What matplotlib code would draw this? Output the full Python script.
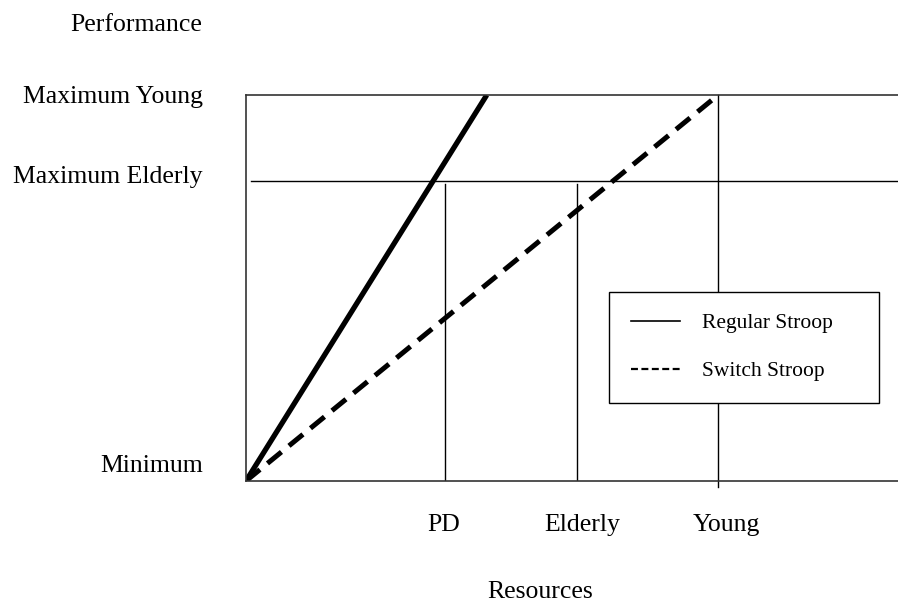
import matplotlib
matplotlib.use("Agg")
import matplotlib.pyplot as plt
import matplotlib.transforms as mtransforms
from matplotlib.lines import Line2D

plt.rcParams['font.family'] = ['Liberation Serif', 'DejaVu Serif']
plt.rcParams['lines.scale_dashes'] = False

# resource levels (x) and performance levels (y)
group_names = ["PD", "Elderly", "Young"]
group_resources = [42.2, 70.1, 100.0]
perf_names = ["Minimum", "Maximum Elderly", "Maximum Young"]
perf_levels = [0.0, 77.7, 100.0]

# the two task curves: start and end points
regular_x = [0.0, 51.0]
regular_y = [0.0, 100.0]
switch_x = [0.0, 100.0]
switch_y = [0.0, 100.0]

fig = plt.figure(figsize=(8.98, 6.09), dpi=100)
ax = fig.add_axes([0.2739, 0.2102, 0.7261, 0.6338])
ax.set_xlim(0, 138.1)
ax.set_ylim(0, 100)

# reference lines
ax.plot([1.0, 138.1], [perf_levels[1]] * 2, color='black', lw=1.0, clip_on=False)
for xv in group_resources[:2]:
    ax.plot([xv, xv], [0, perf_levels[1] - 0.8], color='black', lw=1.0)
ax.plot([group_resources[2]] * 2, [-1.6, perf_levels[2]], color='black', lw=1.0, clip_on=False)

# curves
ax.plot(regular_x, regular_y, color='black', lw=3.8, solid_capstyle='butt')
ax.plot(switch_x, switch_y, color='black', lw=3.6, dashes=(13, 7), dash_capstyle='butt')

# spines
for side in ['left', 'top', 'bottom']:
    ax.spines[side].set_color('#333333')
    ax.spines[side].set_linewidth(1.2)
ax.spines['right'].set_visible(False)

# ticks
ax.set_xticks(group_resources)
ax.set_xticklabels(group_names, fontsize=18.5)
ax.set_yticks(perf_levels)
ax.set_yticklabels(perf_names, fontsize=18.5)
ax.tick_params(axis='both', length=0)
ax.tick_params(axis='x', pad=24)
ax.tick_params(axis='y', pad=31)

x_shift = [-2, 5, 8]
for lab, dx in zip(ax.get_xticklabels(), x_shift):
    lab.set_transform(lab.get_transform() + mtransforms.ScaledTranslation(dx / 100, 0, fig.dpi_scale_trans))
y_shift = [17, 7, 1]
for lab, dy in zip(ax.get_yticklabels(), y_shift):
    lab.set_transform(lab.get_transform() + mtransforms.ScaledTranslation(0, dy / 100, fig.dpi_scale_trans))

ax.set_ylabel("Performance", fontsize=18.5, rotation=0, ha='right', va='center')
ax.yaxis.set_label_coords(-0.0675, 1.181)
ax.set_xlabel("Resources", fontsize=18.5, va='center')
ax.xaxis.set_label_coords(0.451, -0.288)

# legend
handles = [Line2D([], [], color='black', lw=1.2),
           Line2D([], [], color='black', lw=1.6, dashes=(5, 2.5))]
leg = ax.legend(handles, ["Regular Stroop", "Switch Stroop"], fontsize=15.5,
                loc='lower left', bbox_to_anchor=(0.557, 0.202, 0.414, 0.29),
                mode='expand', fancybox=False, framealpha=1, edgecolor='black',
                borderpad=1.0, labelspacing=1.3, handlelength=2.3,
                handletextpad=1.0, borderaxespad=0)
leg.get_frame().set_linewidth(1.0)

fig.savefig("out.png", dpi=100)
